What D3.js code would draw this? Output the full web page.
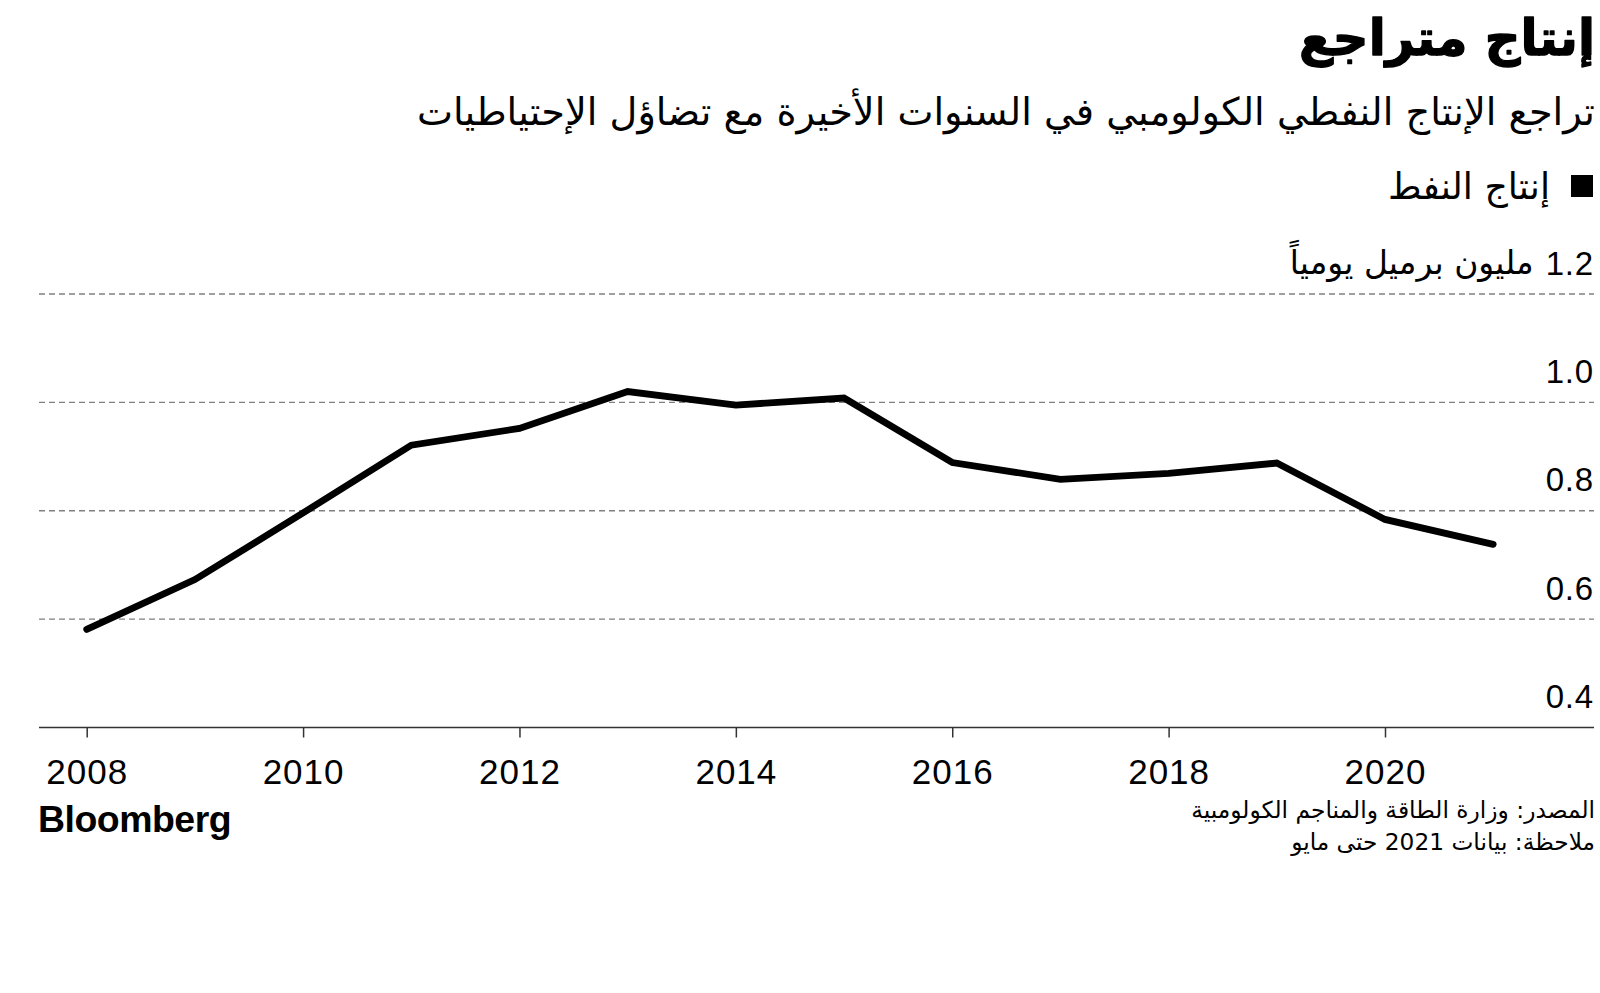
<!DOCTYPE html>
<html><head><meta charset="utf-8">
<script src="https://cdn.jsdelivr.net/npm/d3@7"></script>
<style>body{margin:0;background:#fff} svg{display:block;background:#fff}</style>
</head><body>
<svg id="c" width="1600" height="993"></svg>
<script>
// ---- data ----
const years = [2008,2009,2010,2011,2012,2013,2014,2015,2016,2017,2018,2019,2020,2021];
const production = [0.581,0.673,0.796,0.921,0.952,1.020,0.995,1.008,0.889,0.858,0.869,0.888,0.784,0.738];
const yTicks = [0.4,0.6,0.8,1.0,1.2];
const xTicks = [2008,2010,2012,2014,2016,2018,2020];
const titleText = "إنتاج متراجع";
const subtitleText = "تراجع الإنتاج النفطي الكولومبي في السنوات الأخيرة مع تضاؤل الإحتياطيات";
const legendText = "إنتاج النفط";
const unitText = "مليون برميل يومياً";
const sourceText = "المصدر: وزارة الطاقة والمناجم الكولومبية";
const noteText = "ملاحظة: بيانات 2021 حتى مايو";
const brandText = "Bloomberg";

// ---- setup ----
const svg = d3.select("#c");
const AR = "'DejaVu Sans', 'Noto Sans', sans-serif";
const LAT = "'Liberation Sans', Arial, sans-serif";
const left = 39, right = 1594;
const x = d3.scaleLinear().domain([2008, 2020]).range([86.7, 1385]);
const y = d3.scaleLinear().domain([0.4, 1.2]).range([727.5, 294]);

function fit(sel, target) {
  const w = sel.node().getComputedTextLength();
  const s = parseFloat(sel.attr("font-size"));
  sel.attr("font-size", (s * target / w).toFixed(2));
  return sel;
}

// ---- header ----
fit(svg.append("text").text(titleText)
  .attr("x", 1595).attr("y", 55).attr("text-anchor", "end")
  .attr("font-family", AR).attr("font-weight", "bold").attr("font-size", 50)
  .attr("fill", "#000").attr("stroke", "#000").attr("stroke-width", 1.4)
  .attr("stroke-linejoin", "round"), 296);

fit(svg.append("text").text(subtitleText)
  .attr("x", 1595).attr("y", 125).attr("text-anchor", "end")
  .attr("font-family", AR).attr("font-size", 34).attr("fill", "#000"), 1178);

svg.append("rect").attr("x", 1571).attr("y", 175).attr("width", 22).attr("height", 22).attr("fill", "#000");
fit(svg.append("text").text(legendText)
  .attr("x", 1550).attr("y", 199).attr("text-anchor", "end")
  .attr("font-family", AR).attr("font-size", 30).attr("fill", "#000"), 162);

// ---- gridlines ----
svg.append("g").selectAll("line").data(yTicks.filter(d => d > 0.4)).join("line")
  .attr("x1", left).attr("x2", right)
  .attr("y1", d => y(d)).attr("y2", d => y(d))
  .attr("stroke", "#808080").attr("stroke-width", 1.4).attr("stroke-dasharray", "6,4");

// ---- y axis labels ----
const yAxis = svg.append("g").attr("transform", `translate(1594,0)`)
  .call(d3.axisLeft(y).tickValues(yTicks).tickSize(0).tickPadding(0).tickFormat(d3.format(".1f")));
yAxis.select(".domain").remove();
yAxis.selectAll("text").attr("y", -20).attr("dy", 0)
  .attr("font-family", LAT).attr("font-size", 33).attr("letter-spacing", 0.8).attr("fill", "#000");

// unit label next to top tick
const topLabel = yAxis.selectAll(".tick").filter(d => d === 1.2).select("text").node();
const bb = topLabel.getBBox();
fit(svg.append("text").text(unitText)
  .attr("x", 1594 + bb.x - 12).attr("y", y(1.2) - 20).attr("text-anchor", "end")
  .attr("font-family", AR).attr("font-size", 30).attr("fill", "#000"), 244);

// ---- x axis ----
svg.append("line").attr("x1", left).attr("x2", right)
  .attr("y1", y(0.4)).attr("y2", y(0.4)).attr("stroke", "#333").attr("stroke-width", 1.5);
const xAxis = svg.append("g").attr("transform", `translate(0,${y(0.4)})`)
  .call(d3.axisBottom(x).tickValues(xTicks).tickSize(10).tickFormat(d3.format("d")));
xAxis.select(".domain").remove();
xAxis.selectAll("line").attr("stroke", "#333").attr("stroke-width", 1.5);
xAxis.selectAll("text").attr("y", 56).attr("dy", 0)
  .attr("font-family", LAT).attr("font-size", 35).attr("letter-spacing", 1).attr("fill", "#000");

// ---- line ----
const line = d3.line().x(d => x(d[0])).y(d => y(d[1]));
svg.append("path").datum(years.map((yr, i) => [yr, production[i]]))
  .attr("d", line).attr("fill", "none").attr("stroke", "#000")
  .attr("stroke-width", 6.8).attr("stroke-linecap", "round").attr("stroke-linejoin", "miter");

// ---- footer ----
fit(svg.append("text").text(brandText)
  .attr("x", 38).attr("y", 832).attr("font-family", LAT).attr("font-weight", "bold")
  .attr("font-size", 36).attr("letter-spacing", -0.5).attr("fill", "#000"), 193);

fit(svg.append("text").text(sourceText)
  .attr("x", 1595).attr("y", 818).attr("text-anchor", "end")
  .attr("font-family", AR).attr("font-size", 22).attr("fill", "#000"), 404);
fit(svg.append("text").text(noteText)
  .attr("x", 1595).attr("y", 850).attr("text-anchor", "end")
  .attr("font-family", AR).attr("font-size", 22).attr("fill", "#000"), 304);
</script>
</body></html>
